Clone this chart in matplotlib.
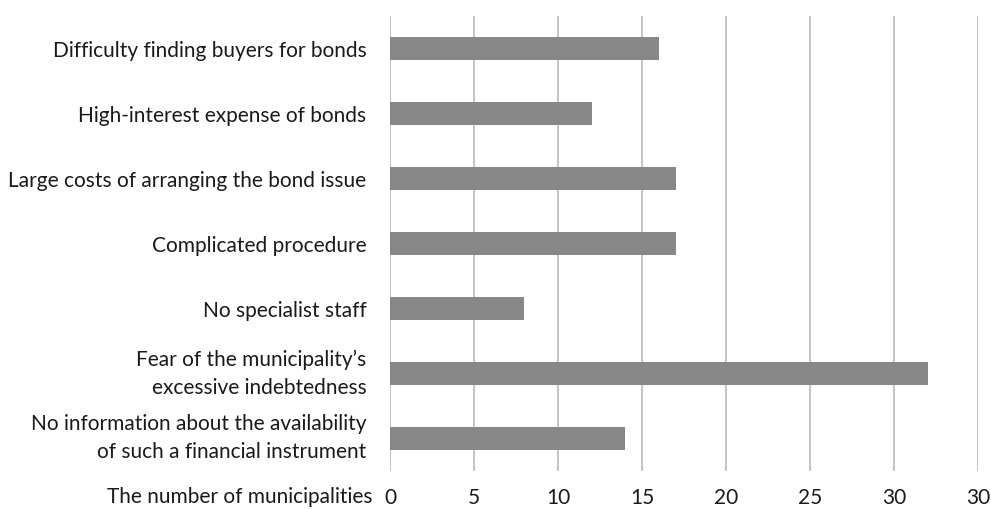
import matplotlib
matplotlib.use("Agg")
import matplotlib.pyplot as plt
from matplotlib.transforms import ScaledTranslation

# reasons municipalities gave for not issuing bonds (top to bottom)
reasons = [
    "Difficulty finding buyers for bonds",
    "High-interest expense of bonds",
    "Large costs of arranging the bond issue",
    "Complicated procedure",
    "No specialist staff",
    "Fear of the municipality\u2019s\nexcessive indebtedness",
    "No information about the availability\nof such a financial instrument",
]
counts = [16, 12, 17, 17, 8, 32, 14]

x_ticks = [0, 5, 10, 15, 20, 25, 30, 35]
x_tick_labels = ["0", "5", "10", "15", "20", "25", "30", "30"]

plt.rcParams["font.family"] = ["Lato", "DejaVu Sans"]
text_color = "#1a1a1a"
fsize = 15

fig = plt.figure(figsize=(9.91, 5.09), dpi=100)
ax = fig.add_axes([390 / 991, 38 / 509, 588 / 991, 455 / 509])

y_pos = list(range(len(reasons)))
ax.barh(y_pos, counts, height=0.35, color="#878787", zorder=2)

ax.set_xlim(0, 35)
ax.set_ylim(len(reasons) - 0.5, -0.5)
ax.set_yticks(y_pos)
ax.set_yticklabels(reasons, fontsize=fsize, color=text_color, linespacing=1.5)
ax.set_xticks(x_ticks)
ax.set_xticklabels(x_tick_labels, fontsize=fsize, color=text_color)
ax.tick_params(axis="both", length=0)
ax.tick_params(axis="y", pad=17)
ax.tick_params(axis="x", pad=12)

# two-line labels sit a little low, nudge them up to the bar centre
for lbl in ax.get_yticklabels():
    if "\n" in lbl.get_text():
        lbl.set_transform(lbl.get_transform() + ScaledTranslation(0, 0.06, fig.dpi_scale_trans))

ax.grid(axis="x", color="#bfbfbf", linewidth=1.3, zorder=0)
ax.grid(axis="y", visible=False)
for side in ["top", "right", "bottom", "left"]:
    ax.spines[side].set_visible(False)

ax.text(-0.03, -0.058, "The number of municipalities", transform=ax.transAxes,
        ha="right", va="center", fontsize=fsize, color=text_color)

fig.savefig("out.png", dpi=100)
